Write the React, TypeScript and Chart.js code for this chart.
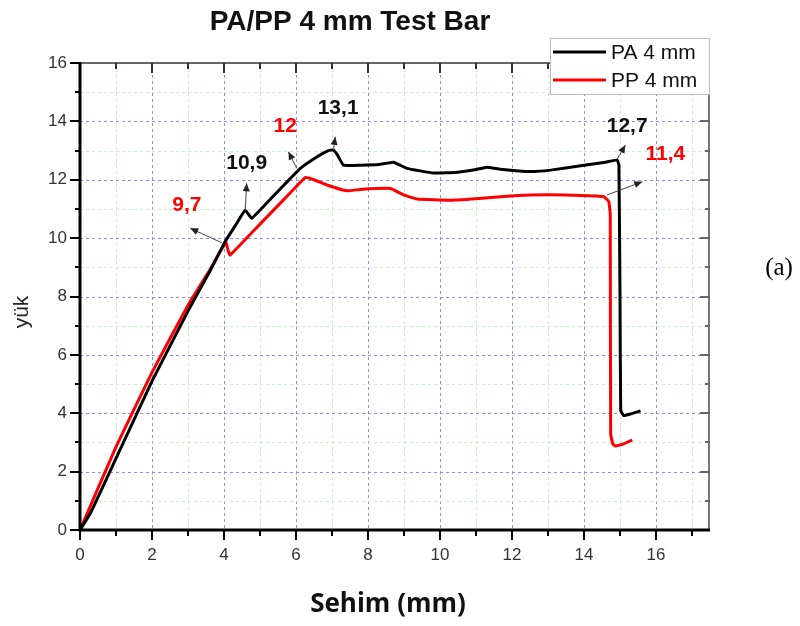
import React, { useEffect, useRef } from "react";
import { Chart, registerables } from "chart.js";

Chart.register(...registerables);

const titleText = "PA/PP 4 mm Test Bar";
const xTitle = "Sehim (mm)";
const yTitle = "yük";
const panelLabel = "(a)";
const seriesNames = ["PA 4 mm", "PP 4 mm"];

const paX = [0, 0.3, 1, 2, 3, 3.6, 4.03, 4.35, 4.59, 4.77, 5.3, 6.12, 6.6, 6.9, 7.04, 7.15, 7.32, 7.78, 8.3, 8.71, 9.08, 9.82, 10.5, 11.0, 11.3, 11.68, 12.51, 13.07, 14.0, 14.6, 14.92, 14.97, 15.0, 15.02, 15.1, 15.3, 15.57];
const paY = [0, 0.6, 2.45, 5.1, 7.5, 8.85, 9.88, 10.5, 10.96, 10.68, 11.35, 12.39, 12.8, 13.0, 13.02, 12.85, 12.5, 12.5, 12.52, 12.6, 12.39, 12.23, 12.26, 12.35, 12.43, 12.36, 12.28, 12.33, 12.5, 12.6, 12.68, 12.5, 8.0, 4.1, 3.92, 3.98, 4.08];

const ppX = [0, 1, 2, 3, 3.6, 4.05, 4.12, 4.17, 5, 5.7, 6.26, 6.5, 6.86, 7.41, 7.78, 8.62, 8.99, 9.36, 10.29, 11.0, 11.68, 12.5, 13.5, 14.3, 14.55, 14.69, 14.73, 14.74, 14.8, 14.87, 15.1, 15.34];
const ppY = [0, 2.85, 5.4, 7.7, 8.9, 9.85, 9.55, 9.42, 10.48, 11.37, 12.08, 12.0, 11.82, 11.62, 11.67, 11.7, 11.48, 11.34, 11.3, 11.35, 11.42, 11.48, 11.48, 11.44, 11.42, 11.25, 10.8, 3.3, 2.95, 2.88, 2.95, 3.08];

// annotations: label text, colour, label position, arrow tail (on curve), arrow head
const annTexts = ["9,7", "10,9", "12", "13,1", "12,7", "11,4"];
const annColors = ["#ff0000", "#111111", "#ff0000", "#111111", "#111111", "#ff0000"];
const annLabelX = [2.97, 4.63, 5.7, 7.17, 15.2, 16.26];
const annLabelY = [11.13, 12.56, 13.82, 14.46, 13.84, 12.88];
const annTailX = [3.94, 4.59, 6.02, 7.04, 14.92, 14.64];
const annTailY = [9.84, 10.96, 12.39, 13.02, 12.7, 11.48];
const annHeadX = [3.06, 4.63, 5.79, 7.09, 15.15, 15.62];
const annHeadY = [10.34, 11.88, 12.96, 13.47, 13.19, 11.93];

const xMin = 0, xMax = 17.5, yMin = 0, yMax = 16;

const toPoints = (xs: number[], ys: number[]) => xs.map((x, i) => ({ x, y: ys[i] }));

const decorPlugin = {
  id: "decor",
  beforeDatasetsDraw(chart: any) {
    const { ctx, chartArea: a, scales } = chart;
    const xs = scales.x, ys = scales.y;
    ctx.save();
    ctx.lineWidth = 1;
    ctx.setLineDash([3, 3]);
    for (let i = 1; i < xMax; i++) {
      const px = Math.round(xs.getPixelForValue(i)) + 0.5;
      ctx.strokeStyle = i % 2 === 0 ? "#8c8cff" : "#c4f0c4";
      ctx.beginPath();
      ctx.moveTo(px, a.top);
      ctx.lineTo(px, a.bottom);
      ctx.stroke();
    }
    for (let j = 1; j < yMax; j++) {
      const py = Math.round(ys.getPixelForValue(j)) + 0.5;
      ctx.strokeStyle = j % 2 === 0 ? "#8c8cff" : "#c4f0c4";
      ctx.beginPath();
      ctx.moveTo(a.left, py);
      ctx.lineTo(a.right, py);
      ctx.stroke();
    }
    ctx.restore();
  },
  afterDatasetsDraw(chart: any) {
    const { ctx, chartArea: a, scales } = chart;
    const xs = scales.x, ys = scales.y;
    ctx.save();
    for (let k = 0; k < annTexts.length; k++) {
      const tx = xs.getPixelForValue(annTailX[k]);
      const ty = ys.getPixelForValue(annTailY[k]);
      const hx = xs.getPixelForValue(annHeadX[k]);
      const hy = ys.getPixelForValue(annHeadY[k]);
      ctx.strokeStyle = "#444";
      ctx.fillStyle = "#222";
      ctx.lineWidth = 1;
      ctx.beginPath();
      ctx.moveTo(tx, ty);
      ctx.lineTo(hx, hy);
      ctx.stroke();
      const ang = Math.atan2(hy - ty, hx - tx);
      const L = 8, W = 3.5;
      ctx.beginPath();
      ctx.moveTo(hx, hy);
      ctx.lineTo(hx - L * Math.cos(ang) + W * Math.sin(ang), hy - L * Math.sin(ang) - W * Math.cos(ang));
      ctx.lineTo(hx - L * Math.cos(ang) - W * Math.sin(ang), hy - L * Math.sin(ang) + W * Math.cos(ang));
      ctx.closePath();
      ctx.fill();
      ctx.font = "bold 21px 'Liberation Sans', Arial, sans-serif";
      ctx.fillStyle = annColors[k];
      ctx.textAlign = "center";
      ctx.textBaseline = "middle";
      ctx.fillText(annTexts[k], xs.getPixelForValue(annLabelX[k]), ys.getPixelForValue(annLabelY[k]));
    }
    ctx.lineCap = "butt";
    ctx.strokeStyle = "#333";
    ctx.lineWidth = 1.5;
    ctx.beginPath();
    ctx.moveTo(a.left, a.top);
    ctx.lineTo(a.right, a.top);
    ctx.stroke();
    ctx.strokeStyle = "#777";
    ctx.lineWidth = 2;
    ctx.beginPath();
    ctx.moveTo(a.right - 1, a.top);
    ctx.lineTo(a.right - 1, a.bottom);
    ctx.stroke();
    ctx.strokeStyle = "#000";
    ctx.lineWidth = 3;
    ctx.beginPath();
    ctx.moveTo(a.left, a.top - 1);
    ctx.lineTo(a.left, a.bottom + 1.5);
    ctx.moveTo(a.left - 1.5, a.bottom);
    ctx.lineTo(a.right, a.bottom);
    ctx.stroke();
    ctx.lineWidth = 2;
    for (let i = 0; i <= 17; i++) {
      const px = Math.round(xs.getPixelForValue(i));
      const len = i % 2 === 0 ? 10 : 6;
      ctx.strokeStyle = "#000";
      ctx.beginPath();
      ctx.moveTo(px, a.bottom);
      ctx.lineTo(px, a.bottom + len);
      ctx.stroke();
      if (i > 0) {
        ctx.strokeStyle = "#333";
        ctx.beginPath();
        ctx.moveTo(px, a.top);
        ctx.lineTo(px, a.top + (i % 2 === 0 ? 10 : 6));
        ctx.stroke();
      }
    }
    for (let j = 0; j <= 16; j++) {
      const py = Math.round(ys.getPixelForValue(j));
      const len = j % 2 === 0 ? 10 : 5;
      ctx.strokeStyle = "#000";
      ctx.beginPath();
      ctx.moveTo(a.left, py);
      ctx.lineTo(a.left - len, py);
      ctx.stroke();
      if (j > 0) {
        ctx.strokeStyle = "#666";
        ctx.beginPath();
        ctx.moveTo(a.right, py);
        ctx.lineTo(a.right - len, py);
        ctx.stroke();
      }
    }
    ctx.restore();
  },
  afterDraw(chart: any) {
    const { ctx } = chart;
    ctx.save();
    ctx.fillStyle = "#111";
    ctx.textAlign = "center";
    ctx.textBaseline = "middle";
    ctx.font = "bold 28px 'Liberation Sans', Arial, sans-serif";
    ctx.fillText(titleText, 350, 22);
    ctx.font = "bold 26px 'Open Sans', sans-serif";
    ctx.fillText(xTitle, 388, 605);
    ctx.save();
    ctx.translate(22, 312);
    ctx.rotate(-Math.PI / 2);
    ctx.font = "21px 'Liberation Sans', Arial, sans-serif";
    ctx.fillStyle = "#222";
    ctx.fillText(yTitle, 0, 0);
    ctx.restore();
    ctx.font = "25px 'Liberation Serif', 'Times New Roman', serif";
    ctx.fillStyle = "#000";
    ctx.fillText(panelLabel, 779, 268);
    ctx.fillStyle = "#fff";
    ctx.fillRect(550, 38, 159, 56);
    ctx.strokeStyle = "#bbb";
    ctx.lineWidth = 1;
    ctx.strokeRect(550.5, 38.5, 159, 56);
    const legColors = ["#000", "#ff0000"];
    const legY = [52, 80];
    for (let k = 0; k < 2; k++) {
      ctx.strokeStyle = legColors[k];
      ctx.lineWidth = 3;
      ctx.beginPath();
      ctx.moveTo(553, legY[k]);
      ctx.lineTo(606, legY[k]);
      ctx.stroke();
      ctx.fillStyle = "#111";
      ctx.textAlign = "left";
      ctx.font = "21px 'Liberation Sans', Arial, sans-serif";
      ctx.fillText(seriesNames[k], 611, legY[k] + 1);
    }
    ctx.restore();
  },
};

export default function App() {
  const ref = useRef<HTMLCanvasElement | null>(null);
  useEffect(() => {
    const canvas = ref.current;
    if (!canvas) return;
    const tickFont = { family: "'Liberation Sans', Arial, sans-serif", size: 17 };
    const chart = new Chart(canvas, {
      type: "line",
      data: {
        datasets: [
          {
            label: seriesNames[0],
            data: toPoints(paX, paY),
            borderColor: "#000000",
            borderWidth: 3,
            pointRadius: 0,
            tension: 0.1,
            fill: false,
          },
          {
            label: seriesNames[1],
            data: toPoints(ppX, ppY),
            borderColor: "#ff0000",
            borderWidth: 3,
            pointRadius: 0,
            tension: 0.1,
            fill: false,
          },
        ],
      },
      options: {
        animation: false,
        responsive: false,
        maintainAspectRatio: false,
        devicePixelRatio: 1,
        layout: { padding: { left: 0, top: 63, right: 90, bottom: 0 } },
        plugins: { legend: { display: false }, title: { display: false }, tooltip: { enabled: false } },
        scales: {
          x: {
            type: "linear",
            min: xMin,
            max: xMax,
            grid: { display: true, color: "rgba(0,0,0,0)", drawTicks: false },
            border: { display: false },
            ticks: {
              stepSize: 1,
              autoSkip: false,
              maxRotation: 0,
              padding: 15,
              color: "#333",
              font: tickFont,
              callback: (v: any) => (Number(v) % 2 === 0 ? String(v) : ""),
            },
            afterFit: (s: any) => { s.height = 96; },
          },
          y: {
            type: "linear",
            min: yMin,
            max: yMax,
            grid: { display: true, color: "rgba(0,0,0,0)", drawTicks: false },
            border: { display: false },
            ticks: {
              stepSize: 1,
              autoSkip: false,
              padding: 13,
              color: "#333",
              font: tickFont,
              callback: (v: any) => (Number(v) % 2 === 0 ? String(v) : ""),
            },
            afterFit: (s: any) => { s.width = 80; },
          },
        },
      },
      plugins: [decorPlugin],
    } as any);
    return () => chart.destroy();
  }, []);
  return (
    <div style={{ position: "absolute", left: 0, top: 0, width: 800, height: 626, background: "#fff" }}>
      <canvas ref={ref} width={800} height={626} style={{ width: 800, height: 626, display: "block" }} />
    </div>
  );
}
